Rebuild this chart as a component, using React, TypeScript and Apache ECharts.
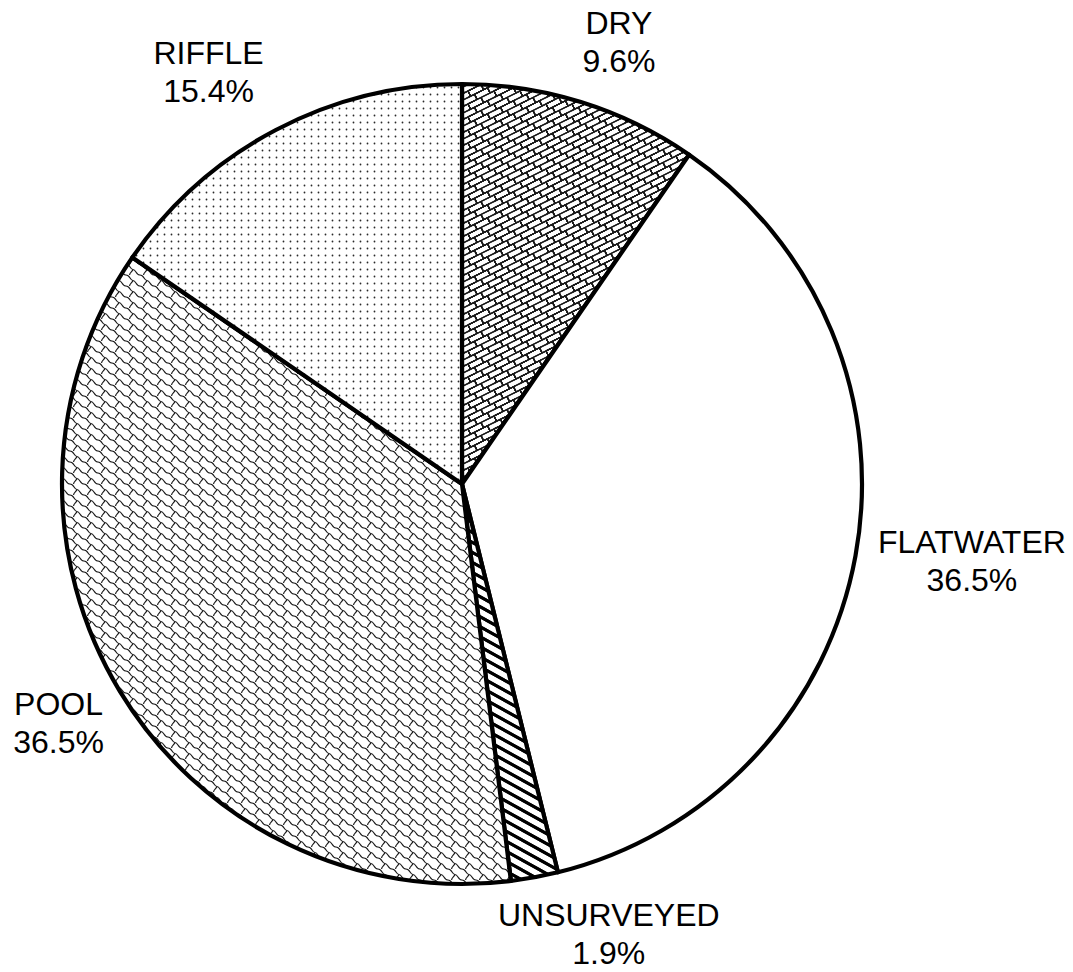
import React, { useEffect, useRef } from "react";
import * as echarts from "echarts";

// ---- data ----
const categories = ["DRY", "FLATWATER", "UNSURVEYED", "POOL", "RIFFLE"];
const shares = [9.6, 36.5, 1.9, 36.5, 15.4];

// ---- layout constants ----
const CX = 462;
const CY = 484;
const RADIUS = 400;
const LABEL_GAP = 10;
// small manual label nudges (px) applied after radial placement, per category order
const LABEL_NUDGE: [number, number][] = [
  [21, -6],
  [9, -15],
  [62, -10],
  [-3, -4],
  [-35, 3],
];

type DrawFn = (ctx: CanvasRenderingContext2D) => void;

function makeTile(w: number, h: number, draw: DrawFn) {
  const c = document.createElement("canvas");
  c.width = w;
  c.height = h;
  const ctx = c.getContext("2d") as CanvasRenderingContext2D;
  ctx.fillStyle = "#ffffff";
  ctx.fillRect(0, 0, w, h);
  for (const ox of [-w, 0, w]) {
    for (const oy of [-h, 0, h]) {
      ctx.save();
      ctx.translate(ox, oy);
      draw(ctx);
      ctx.restore();
    }
  }
  return { image: c.toDataURL(), repeat: "repeat", imageWidth: w, imageHeight: h };
}

function brickPattern() {
  // diagonal brick, lines rising to the right
  return makeTile(26, 13, (ctx) => {
    ctx.strokeStyle = "#1a1a1a";
    ctx.lineWidth = 1.2;
    ctx.beginPath();
    for (const c of [-26, -13, 0, 13, 26, 39]) {
      ctx.moveTo(c + 8, -4);
      ctx.lineTo(c - 32, 16);
    }
    for (const c of [-26, 0, 26]) {
      for (let m = -4; m <= 5; m++) {
        const x = c + 13 * m;
        const y = -6.5 * m;
        ctx.moveTo(x, y);
        ctx.lineTo(x + 2.6, y + 5.2);
      }
    }
    for (const c of [-13, 13, 39]) {
      for (let m = -4; m <= 5; m++) {
        const x = c + 6.5 + 13 * m;
        const y = -3.25 - 6.5 * m;
        ctx.moveTo(x, y);
        ctx.lineTo(x + 2.6, y + 5.2);
      }
    }
    ctx.stroke();
  });
}

function shinglePattern() {
  return makeTile(14, 11, (ctx) => {
    ctx.strokeStyle = "#1a1a1a";
    ctx.lineWidth = 1.2;
    ctx.beginPath();
    ctx.moveTo(0, 0);
    ctx.bezierCurveTo(4, 0, 4, 5.5, 7, 5.5);
    ctx.bezierCurveTo(10, 5.5, 10, 11, 14, 11);
    ctx.moveTo(7, 5.5);
    ctx.bezierCurveTo(6, 8, 4, 8, 3.5, 11);
    ctx.stroke();
  });
}

function dotPattern() {
  return makeTile(7, 7, (ctx) => {
    ctx.fillStyle = "#2a2a2a";
    ctx.beginPath();
    ctx.arc(3.5, 3.5, 0.9, 0, Math.PI * 2);
    ctx.fill();
  });
}

function hatchPattern() {
  return makeTile(18, 10, (ctx) => {
    ctx.strokeStyle = "#000000";
    ctx.lineWidth = 3;
    ctx.beginPath();
    ctx.moveTo(-9, -5);
    ctx.lineTo(27, 15);
    ctx.stroke();
  });
}

export default function App() {
  const ref = useRef<HTMLDivElement>(null);

  useEffect(() => {
    if (!ref.current) return;
    const chart = echarts.init(ref.current, null, { renderer: "svg" });
    const fills = [brickPattern(), "#ffffff", hatchPattern(), shinglePattern(), dotPattern()];
    const total = shares.reduce((a, b) => a + b, 0);

    chart.setOption({
      animation: false,
      backgroundColor: "#ffffff",
      series: [
        {
          type: "pie",
          center: [CX, CY],
          radius: [0, RADIUS],
          startAngle: 90,
          clockwise: true,
          avoidLabelOverlap: false,
          silent: true,
          emphasis: { disabled: true },
          itemStyle: { borderColor: "#000000", borderWidth: 4.2 },
          label: {
            show: true,
            position: "outside",
            color: "#000000",
            fontFamily: "Liberation Sans, Arial, sans-serif",
            fontSize: 32,
            lineHeight: 38,
            align: "center",
            formatter: (p: any) => `${p.name}\n${Number(p.value).toFixed(1)}%`,
          },
          labelLine: { show: false },
          labelLayout: (params: any) => {
            const i = params.dataIndex;
            let before = 0;
            for (let k = 0; k < i; k++) before += shares[k];
            const mid = ((before + shares[i] / 2) / total) * Math.PI * 2;
            const dx = Math.sin(mid);
            const dy = -Math.cos(mid);
            const w = params.labelRect.width;
            const h = params.labelRect.height;
            const s = Math.abs(dx) * w / 2 + Math.abs(dy) * h / 2;
            const d = RADIUS + LABEL_GAP + s;
            const [nx, ny] = LABEL_NUDGE[i];
            return {
              x: CX + dx * d + nx,
              y: CY + dy * d + ny,
              align: "center",
              verticalAlign: "middle",
            };
          },
          data: categories.map((name, i) => ({
            name,
            value: shares[i],
            itemStyle: { color: fills[i] },
          })),
        },
      ],
    });
    return () => chart.dispose();
  }, []);

  return (
    <div
      ref={ref}
      style={{ position: "absolute", left: 0, top: 0, width: 1073, height: 972 }}
    />
  );
}
